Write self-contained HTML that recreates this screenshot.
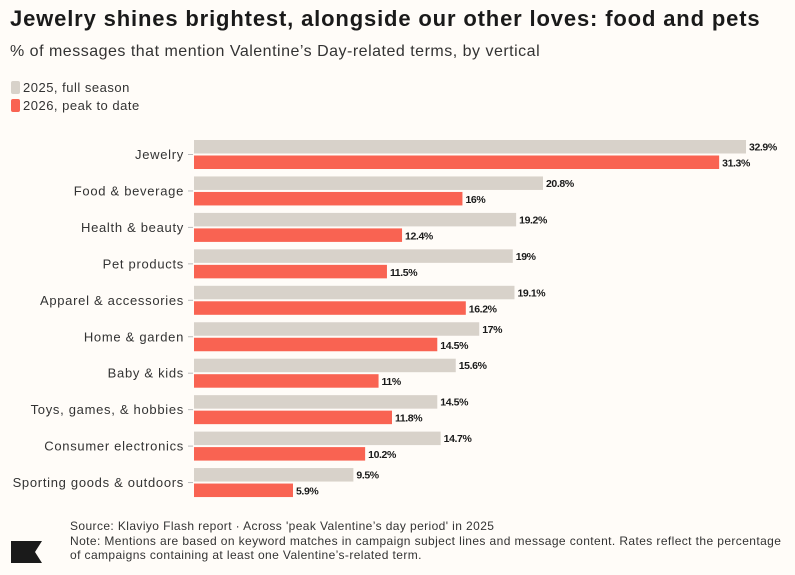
<!DOCTYPE html>
<html><head><meta charset="utf-8"><style>
body{margin:0;background:#fffcf8;font-family:"Liberation Sans",sans-serif;color:#1a1a1a}
#wrap{position:relative;width:795px;height:575px;overflow:hidden}
.t{position:absolute;white-space:nowrap}
</style></head><body>
<div id="wrap">
<div class="t" style="left:10px;top:6px;font-size:22px;font-weight:bold;letter-spacing:0.85px">Jewelry shines brightest, alongside our other loves: food and pets</div>
<div class="t" style="left:10px;top:43px;font-size:16px;color:#333;letter-spacing:0.5px">% of messages that mention Valentine’s Day-related terms, by vertical</div>
<div class="t" style="left:11px;top:80px;font-size:13px;color:#333;letter-spacing:0.5px"><span style="display:inline-block;width:9px;height:13px;background:#d8d2ca;border-radius:2px;vertical-align:-2px;margin-right:3px"></span>2025, full season</div>
<div class="t" style="left:11px;top:98px;font-size:13px;color:#333;letter-spacing:0.5px"><span style="display:inline-block;width:9px;height:13px;background:#f96352;border-radius:2px;vertical-align:-2px;margin-right:3px"></span>2026, peak to date</div>
<svg id="chart" width="795" height="575" style="position:absolute;left:0;top:0"></svg>
<div class="t" style="left:70px;top:519px;font-size:12px;line-height:14.5px;color:#333;letter-spacing:0.4px">Source: Klaviyo Flash report · Across 'peak Valentine’s day period' in 2025<br>Note: Mentions are based on keyword matches in campaign subject lines and message content. Rates reflect the percentage<br>of campaigns containing at least one Valentine’s-related term.</div>
<svg width="32" height="22" style="position:absolute;left:11px;top:541px"><polygon points="0,0 31,0 24,11 31,22 0,22" fill="#1a1a1a"/></svg>
</div>
<script>
const categories=["Jewelry","Food & beverage","Health & beauty","Pet products","Apparel & accessories","Home & garden","Baby & kids","Toys, games, & hobbies","Consumer electronics","Sporting goods & outdoors"];
const values2025=[32.9,20.8,19.2,19,19.1,17,15.6,14.5,14.7,9.5];
const values2026=[31.3,16,12.4,11.5,16.2,14.5,11,11.8,10.2,5.9];
const svg=document.getElementById('chart');
const NS='http://www.w3.org/2000/svg';
const x0=194, pxPer=(746-194)/32.9;
const xs=v=>x0+v*pxPer;
const rowY=i=>154.5+i*36.45;
function mk(t,a){const e=document.createElementNS(NS,t);for(const k in a)e.setAttribute(k,a[k]);svg.appendChild(e);return e;}
categories.forEach((c,i)=>{
  const cy=rowY(i);
  const lab=mk('text',{x:184,y:cy+4.5,'text-anchor':'end','font-size':13,'letter-spacing':'0.7',fill:'#333'});
  lab.textContent=c;
  
  
  const tk=mk('line',{x1:188,x2:193,y1:cy,y2:cy,stroke:'#bbb','stroke-width':1});
  
  
  const b1=mk('rect',{x:x0,y:cy-14.5,width:xs(values2025[i])-x0,height:13.5,fill:'#d8d2ca'});
  
  
  const b2=mk('rect',{x:x0,y:cy+1,width:xs(values2026[i])-x0,height:13.5,fill:'#f96352'});
  
  
  const v1=mk('text',{x:xs(values2025[i])+3,y:cy-4,'font-size':10.5,'font-weight':'bold','letter-spacing':'-0.4',fill:'#1a1a1a'});
  v1.textContent=values2025[i]+'%';
  
  
  const v2=mk('text',{x:xs(values2026[i])+3,y:cy+12,'font-size':10.5,'font-weight':'bold','letter-spacing':'-0.4',fill:'#1a1a1a'});
  v2.textContent=values2026[i]+'%';
  
  
});
</script>
</body></html>
